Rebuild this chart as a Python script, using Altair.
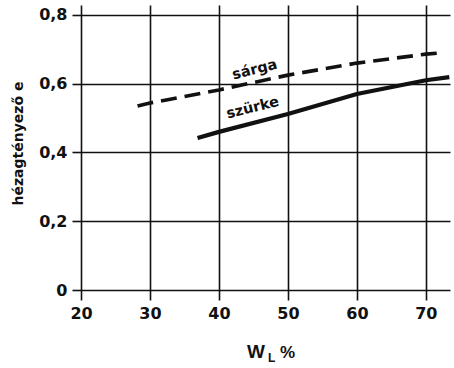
import altair as alt
import pandas as pd

# Liquid limit W_L (%) against void ratio e for two clay types
sarga_wl = [28.2, 30, 40, 50, 60, 70, 72.4]
sarga_e = [0.535, 0.544, 0.582, 0.625, 0.660, 0.686, 0.690]

szurke_wl = [36.9, 40, 50, 60, 70, 73.4]
szurke_e = [0.442, 0.460, 0.512, 0.570, 0.610, 0.619]

x_ticks = [20, 30, 40, 50, 60, 70]
y_ticks = [0, 0.2, 0.4, 0.6, 0.8]

curve_labels = ["sárga", "szürke"]
label_wl = [45.2, 44.9]
label_e = [0.640, 0.529]

FONT = "DejaVu Sans"
INK = "#111111"

sarga = pd.DataFrame({"wl": sarga_wl, "e": sarga_e})
szurke = pd.DataFrame({"wl": szurke_wl, "e": szurke_e})
labels = pd.DataFrame({"name": curve_labels, "wl": label_wl, "e": label_e})

x_scale = alt.Scale(domain=[20, 73.5], nice=False, zero=False)
y_scale = alt.Scale(domain=[0, 0.829], nice=False)

x_axis = alt.Axis(values=x_ticks, title=None, grid=True, domain=False,
                  gridColor=INK, gridWidth=1.6, gridOpacity=1,
                  tickColor=INK, tickWidth=1.6, tickSize=10,
                  labelFont=FONT, labelFontSize=16, labelFontWeight="bold",
                  labelColor=INK, labelPadding=5, labelFlush=False)
y_axis = alt.Axis(values=y_ticks, grid=True, domain=False,
                  gridColor=INK, gridWidth=1.6, gridOpacity=1,
                  tickColor=INK, tickWidth=1.6, tickSize=9,
                  labelFont=FONT, labelFontSize=16, labelFontWeight="bold",
                  labelColor=INK, labelPadding=5, labelFlush=False,
                  labelExpr="datum.value == 0 ? '0' : replace(format(datum.value, '.1f'), '.', ',')",
                  title="hézagtényező e", titleFont=FONT, titleFontSize=14,
                  titleFontWeight="bold", titleColor=INK,
                  titleAngle=270, titleX=-63, titleY=138,
                  titleAlign="center", titleBaseline="middle")

dashed = alt.Chart(sarga).mark_line(
    color=INK, strokeWidth=3.6, strokeDash=[16, 8], strokeCap="butt"
).encode(
    x=alt.X("wl:Q", scale=x_scale, axis=x_axis),
    y=alt.Y("e:Q", scale=y_scale, axis=y_axis),
)

solid = alt.Chart(szurke).mark_line(
    color=INK, strokeWidth=4.2
).encode(
    x=alt.X("wl:Q", scale=x_scale),
    y=alt.Y("e:Q", scale=y_scale),
)

curve_text = alt.Chart(labels).mark_text(
    font=FONT, fontSize=14.5, fontWeight="bold", color=INK,
    align="center", baseline="middle", angle=346
).encode(
    x=alt.X("wl:Q", scale=x_scale),
    y=alt.Y("e:Q", scale=y_scale),
    text="name:N",
)

# x axis title "W_L %" with a subscript L
title_parts = pd.DataFrame({
    "t": ["W", "L", "%"],
    "px": [166, 187, 199],
    "py": [353, 357, 353],
    "size": [19, 12, 17],
})
x_title = alt.Chart(title_parts).mark_text(
    font="Liberation Sans", fontWeight="bold", color=INK,
    align="left", baseline="alphabetic"
).encode(
    x=alt.X("px:Q", scale=None),
    y=alt.Y("py:Q", scale=None),
    text="t:N",
    size=alt.Size("size:Q", scale=None),
)

chart = alt.layer(dashed, solid, curve_text, x_title).properties(
    width=369, height=285,
    padding={"left": 81, "top": 5, "right": 4, "bottom": 78},
    autosize=alt.AutoSizeParams(type="none"),
    background="white",
).configure_view(stroke=None)

chart.save("out.html", embed_options={"renderer": "svg", "actions": False})
